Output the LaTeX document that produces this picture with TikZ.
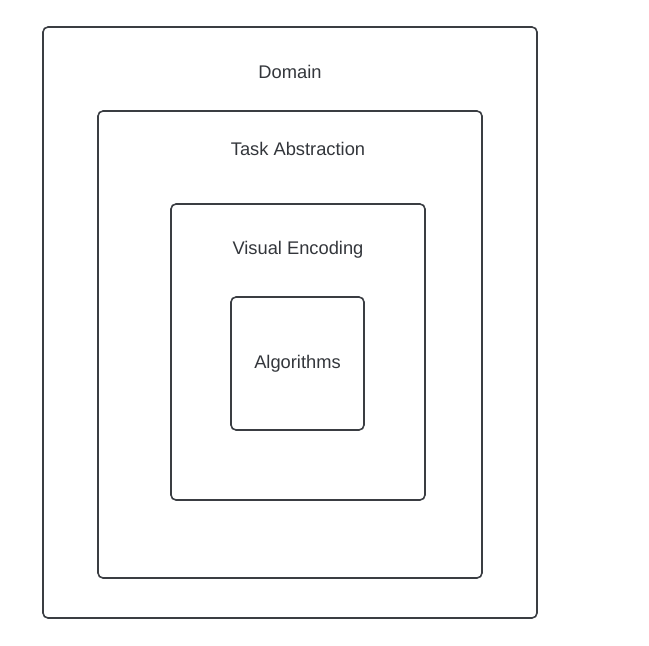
\documentclass[tikz,border=0pt]{standalone}
\usepackage{fontspec}
\setmainfont{Liberation Sans}
\usetikzlibrary{positioning}
\definecolor{linegray}{HTML}{3A3D42}
\definecolor{textgray}{HTML}{33363B}

\begin{document}
\begin{tikzpicture}[x=1pt, y=-1pt,
  every node/.style={font=\fontsize{18.3}{22}\selectfont, text=textgray},
  layer/.style={draw=linegray, line width=1.6pt, rounded corners=5pt,
    inner sep=0pt},
  tag/.style={inner sep=0pt}]
  % canvas
  \useasboundingbox (0,0) rectangle (649,646);

  % nested layers (centre, width, height in px)
  \node[layer, minimum width=494pt, minimum height=591pt] (domain) at (290,322.5) {};
  \node[layer, minimum width=384pt, minimum height=467pt] (task) at (290,344.5) {};
  \node[layer, minimum width=254pt, minimum height=296pt] (visual) at (298,352) {};
  \node[layer, minimum width=133pt, minimum height=133pt] (algo) at (297.5,363.5) {Algorithms};

  % layer titles
  \node[tag] (domaintag) at (290,72) {Domain};
  \node[tag] (tasktag) at (298,149) {Task Abstraction};
  \node[tag] (visualtag) at (298,249.5) {Visual Encoding};
\end{tikzpicture}
\end{document}
